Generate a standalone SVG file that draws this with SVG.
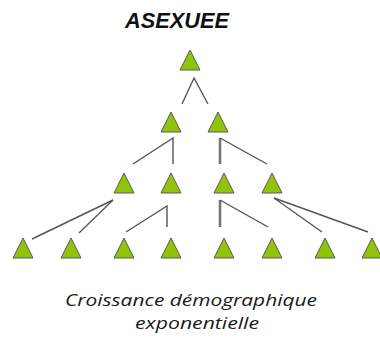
<svg xmlns="http://www.w3.org/2000/svg" width="380" height="340" viewBox="0 0 380 340">
  <style>
    .tri { fill: #8fc40a; stroke: #5a5a5a; stroke-width: 1; stroke-linejoin: miter; }
    .ln { fill: none; stroke: #555; stroke-width: 1.4; }
    .lnv { fill: none; stroke: #777; stroke-width: 2.6; }
    .title { font-family: "Liberation Sans", Arial, sans-serif; font-weight: bold; font-style: italic; font-size: 22px; fill: #111; }
    .cap { font-family: "Open Sans", "Liberation Sans", sans-serif; font-style: italic; font-size: 16.5px; fill: #1a1a1a; }
  </style>
  <defs>
    <polygon id="t" points="0,-10 10,10 -10,10"/>
  </defs>
  <rect width="380" height="340" fill="#ffffff"/>

  <text class="title" x="177" y="28" text-anchor="middle" textLength="104" lengthAdjust="spacingAndGlyphs">ASEXUEE</text>

  <!-- connectors -->
  <g id="connectors">
    <polyline class="ln" points="182,104 194,78 208,104"/>
    <polyline class="ln" points="133,164 173,138 173,164"/>
    <line class="lnv" x1="220" y1="138" x2="220" y2="164"/>
    <line class="ln" x1="220" y1="138" x2="267" y2="164"/>
    <line class="ln" x1="113" y1="200" x2="32" y2="239"/>
    <line class="ln" x1="113" y1="200" x2="79" y2="233"/>
    <polyline class="ln" points="126,232 167,206 167,227"/>
    <line class="lnv" x1="220" y1="200" x2="220" y2="227"/>
    <line class="ln" x1="220" y1="200" x2="268" y2="227"/>
    <line class="ln" x1="274" y1="198" x2="322" y2="232"/>
    <line class="ln" x1="274" y1="198" x2="368" y2="232"/>
  </g>

  <!-- generation 0 -->
  <g id="n0"><use href="#t" class="tri" x="190" y="60"/></g>
  <!-- generation 1 -->
  <g id="n1a"><use href="#t" class="tri" x="171" y="122"/></g>
  <g id="n1b"><use href="#t" class="tri" x="218" y="122"/></g>
  <!-- generation 2 -->
  <g id="n2a"><use href="#t" class="tri" x="124" y="183"/></g>
  <g id="n2b"><use href="#t" class="tri" x="171" y="183"/></g>
  <g id="n2c"><use href="#t" class="tri" x="224" y="183"/></g>
  <g id="n2d"><use href="#t" class="tri" x="272" y="183"/></g>
  <!-- generation 3 -->
  <g id="n3a"><use href="#t" class="tri" x="23" y="248"/></g>
  <g id="n3b"><use href="#t" class="tri" x="71" y="248"/></g>
  <g id="n3c"><use href="#t" class="tri" x="124" y="248"/></g>
  <g id="n3d"><use href="#t" class="tri" x="171" y="248"/></g>
  <g id="n3e"><use href="#t" class="tri" x="224" y="248"/></g>
  <g id="n3f"><use href="#t" class="tri" x="272" y="248"/></g>
  <g id="n3g"><use href="#t" class="tri" x="325" y="248"/></g>
  <g id="n3h"><use href="#t" class="tri" x="372" y="248"/></g>

  <text class="cap" x="191" y="306" text-anchor="middle" textLength="252" lengthAdjust="spacingAndGlyphs">Croissance démographique</text>
  <text class="cap" x="197" y="329" text-anchor="middle" textLength="124" lengthAdjust="spacingAndGlyphs">exponentielle</text>
</svg>
